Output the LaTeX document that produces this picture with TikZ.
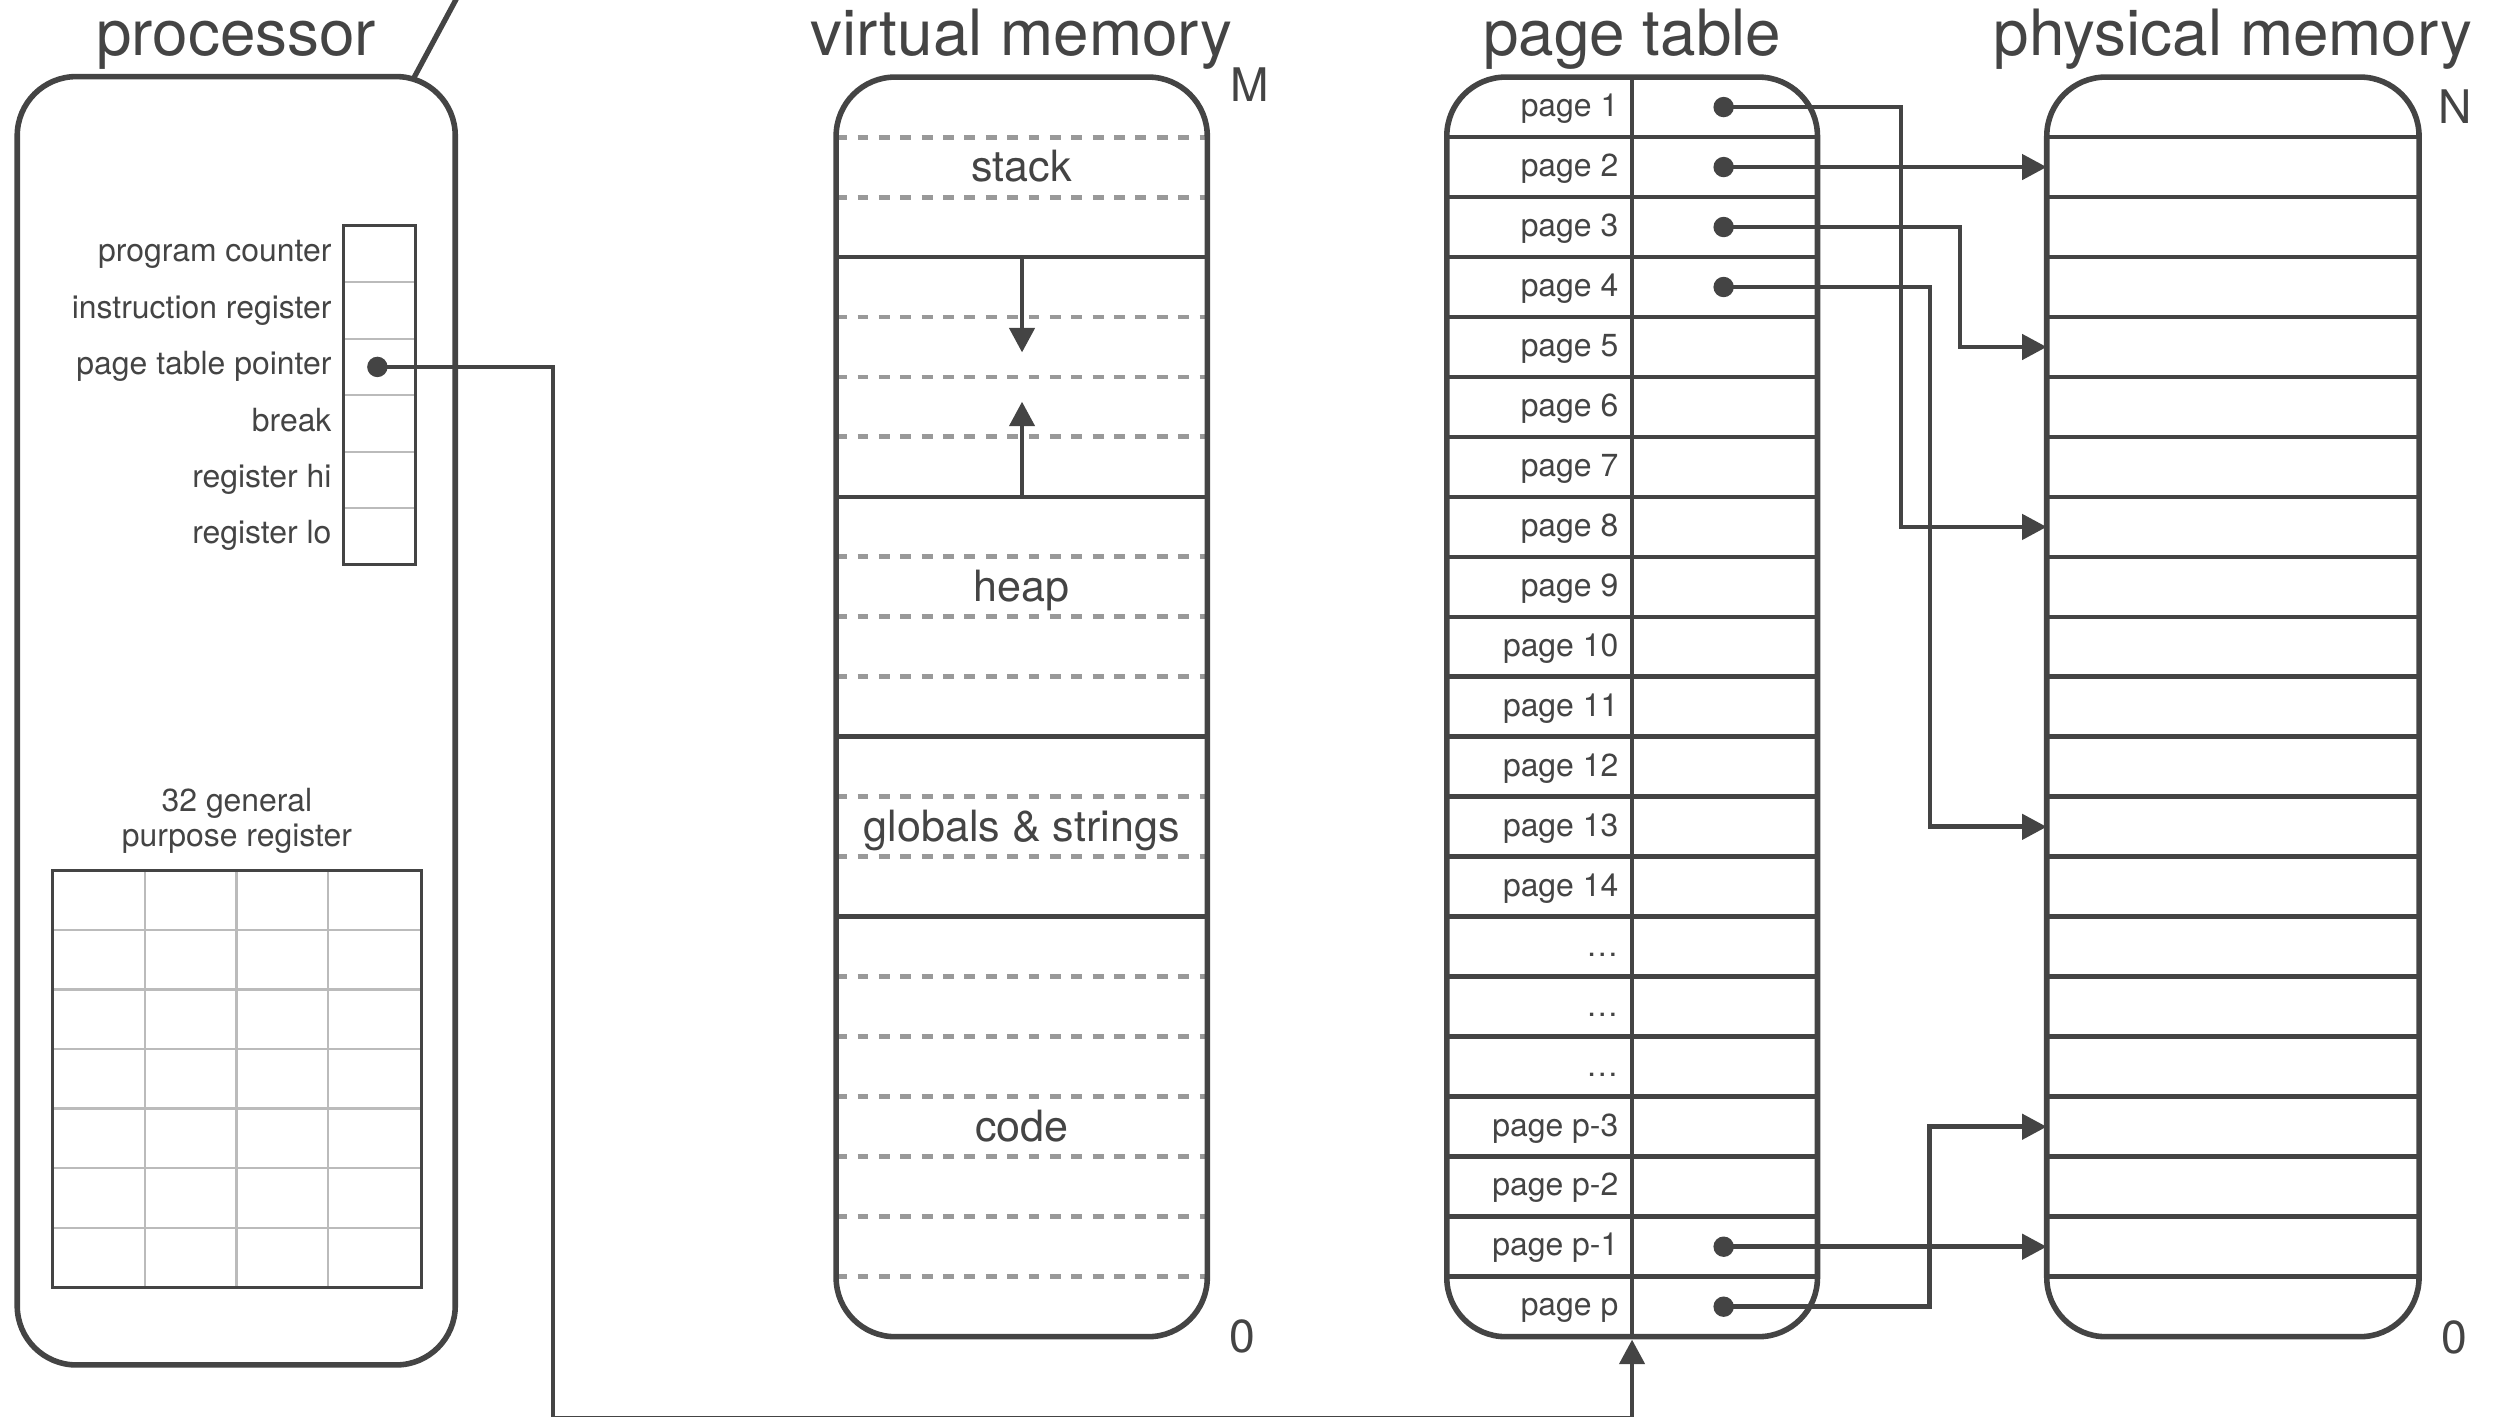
\documentclass[tikz,border=0pt]{standalone}
\usepackage{fontspec}
\setmainfont{TeX Gyre Heros}
\usetikzlibrary{arrows.meta}
\definecolor{ink}{HTML}{444444}
\definecolor{dashgray}{HTML}{999999}
\definecolor{hair}{HTML}{BBBBBB}
\begin{document}
\begin{tikzpicture}[x=1pt,y=-1pt,
  box/.style={draw=ink,line width=3.5pt,rounded corners=37pt},
  rule/.style={draw=ink,line width=3pt},
  dashrule/.style={draw=dashgray,line width=3.1pt,dash pattern=on 6.8pt off 6.6pt},
  hairline/.style={draw=hair,line width=1.3pt},
  thinbox/.style={draw=ink,line width=1.8pt},
  conn/.style={draw=ink,line width=3pt},
  tip/.style={-{Triangle[length=15.4pt,width=15.6pt]}},
  dotnode/.style={circle,fill=ink,inner sep=0pt,minimum size=12.8pt},
  title/.style={font=\fontsize{40}{48}\selectfont,text=ink,anchor=base,inner sep=0pt},
  small/.style={font=\fontsize{20}{24}\selectfont,text=ink,inner sep=0pt},
  seglabel/.style={font=\fontsize{27}{32}\selectfont,text=ink,inner sep=0pt,anchor=base},
  bound/.style={font=\fontsize{29}{34}\selectfont,text=ink,inner sep=0pt,anchor=base},
  cell/.style={inner sep=0pt,minimum width=233pt,minimum height=37.59pt},
]
\useasboundingbox (0,0) rectangle (1568,888);
\def\ytop{48.3}
\def\rowh{37.59}

% ---------------- processor ----------------
\node[title] (proc) at (148,34.5) {processor};
\draw[rule,line width=3.3pt] (259,49.5) -- (288.3,-5);
\draw[box] (10.8,48) rectangle (285.3,855.4);

% special registers
\foreach \k in {1,...,5}
  \draw[hairline] (215,{141.5+\k*35.38}) -- (260.5,{141.5+\k*35.38});
\draw[thinbox] (215,141.5) rectangle (260.5,353.8);
\foreach \lab [count=\k] in {program counter,instruction register,page table pointer,break,register hi,register lo}
  \node[small,anchor=base east] (reg\k) at (207.9,{141.5+(\k-0.5)*35.38+4.8}) {\lab};
\node[dotnode] (ptp) at (236.5,{141.5+2.5*35.38}) {};

% general purpose registers
\node[small] (gpr1) at (148.5,503.2) {32 general};
\node[small] (gpr2) at (148.5,525.8) {purpose register};
\foreach \x in {90.7,148.2,205.7}
  \draw[hairline] (\x,545.5) -- (\x,806.6);
\foreach \k in {1,...,6}
  \draw[hairline] (33,{545.5+\k*37.3}) -- (264,{545.5+\k*37.3});
\draw[thinbox] (33,545.5) rectangle (264,806.6);

% ---------------- virtual memory ----------------
\node[title] (vmt) at (640.3,34.5) {virtual memory};
\foreach \k in {1,2,4,5,6,8,9,10,12,13,15,16,17,18,19,20}
  \draw[dashrule] (524,{\ytop+\k*\rowh}) -- (756.6,{\ytop+\k*\rowh});
\foreach \k in {3,7,11,14}
  \draw[rule] (524,{\ytop+\k*\rowh}) -- (756.6,{\ytop+\k*\rowh});
\draw[box] (524,\ytop) rectangle (756.6,837.7);
\node[seglabel] (stack) at (640.3,{\ytop+1.5*\rowh+9.1}) {stack};
\node[seglabel] (heap) at (640.3,{\ytop+8.5*\rowh+9.1}) {heap};
\node[seglabel] (glob) at (640.3,{\ytop+12.5*\rowh+9.1}) {globals \& strings};
\node[seglabel] (code) at (640.3,{\ytop+17.5*\rowh+9.1}) {code};
\coordinate (sg0) at (640.5,{\ytop+3*\rowh});
\coordinate (sg1) at (640.5,220.9);
\coordinate (hg0) at (640.5,{\ytop+7*\rowh});
\coordinate (hg1) at (640.5,251.7);
\draw[conn,tip] (sg0) -- (sg1);
\draw[conn,tip] (hg0) -- (hg1);
\node[bound] (vmM) at (783.4,63.7) {M};
\node[bound] (vm0) at (778.6,847.5) {0};

% ---------------- page table ----------------
\node[title] (ptt) at (1022.9,34.5) {page table};
\foreach \k in {1,...,20}
  \draw[rule] (906.7,{\ytop+\k*\rowh}) -- (1139,{\ytop+\k*\rowh});
\draw[rule] (1022.8,\ytop) -- (1022.8,837.7);
\draw[box] (906.7,\ytop) rectangle (1139,837.7);
\foreach \lab [count=\k] in {page 1,page 2,page 3,page 4,page 5,page 6,page 7,page 8,page 9,page 10,page 11,page 12,page 13,page 14,…,…,…,page p-3,page p-2,page p-1,page p}
  \node[small,anchor=base east] (pt\k) at (1014.4,{\ytop+(\k-0.5)*\rowh+5.8}) {\lab};
\foreach \k in {1,2,3,4,20,21}
  \node[dotnode] (d\k) at (1080.2,{\ytop+(\k-0.5)*\rowh}) {};
\coordinate (ptbot) at (1022.8,839.5);

% ---------------- physical memory ----------------
\node[title] (pmt) at (1399.4,34.5) {physical memory};
\foreach \k in {1,...,20}
  \draw[rule] (1282.7,{\ytop+\k*\rowh}) -- (1516,{\ytop+\k*\rowh});
\draw[box] (1282.7,\ytop) rectangle (1516,837.7);
\foreach \k in {1,...,21}
  \node[cell] (m\k) at (1399.35,{\ytop+(\k-0.5)*\rowh}) {};
\node[bound] (pmN) at (1538.5,77.3) {N};
\node[bound] (pm0) at (1538.2,848.5) {0};

% ---------------- mappings ----------------
\coordinate (b1) at (1191.3,0);
\coordinate (b3) at (1228.3,0);
\coordinate (b4) at (1209.5,0);
\coordinate (bp) at (1209.0,0);
\draw[conn,tip] (d1.center) -- (d1.center -| b1) |- (m8.west);
\draw[conn,tip] (d2.center) -- (m2.west);
\draw[conn,tip] (d3.center) -- (d3.center -| b3) |- (m5.west);
\draw[conn,tip] (d4.center) -- (d4.center -| b4) |- (m13.west);
\draw[conn,tip] (d20.center) -- (m20.west);
\draw[conn,tip] (d21.center) -- (d21.center -| bp) |- (m18.west);

% page table pointer to the page table
\coordinate (bus) at (346.6,888.6);
\draw[conn,tip] (ptp.center) -| (bus) -| (ptbot);
\end{tikzpicture}
\end{document}
